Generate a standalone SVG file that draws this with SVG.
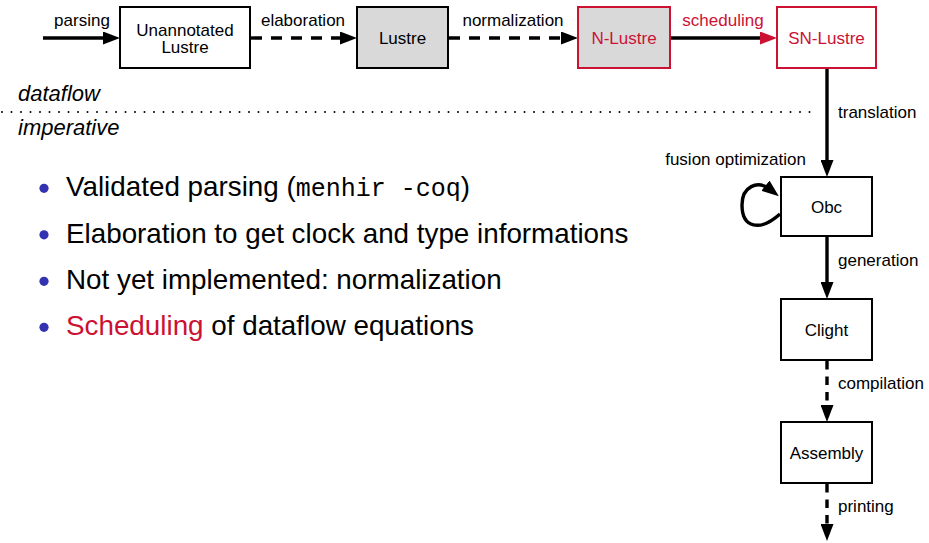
<svg xmlns="http://www.w3.org/2000/svg" width="929" height="543" viewBox="0 0 929 543">
<style>
  .box { fill: #ffffff; stroke: #000000; stroke-width: 2; }
  .grey { fill: #d9d9d9; }
  .redbox { stroke: #cc1133; }
  .lbl { font-family: "Liberation Sans", Arial, sans-serif; font-size: 17px; fill: #000000; text-anchor: middle; }
  .elbl { font-family: "Liberation Sans", Arial, sans-serif; font-size: 17px; fill: #000000; }
  .red { fill: #cc1133; }
  .conn { fill: none; stroke: #000000; stroke-width: 3.4; }
  .hdash { stroke-dasharray: 11 9; }
  .vdash { stroke-dasharray: 8.5 7; }
  .bullet { font-family: "Liberation Sans", Arial, sans-serif; font-size: 27.8px; fill: #000000; }
  .mono { font-family: "Liberation Mono", "DejaVu Sans Mono", monospace; font-size: 25px; }
  .dot { fill: #3333b2; }
  .section { font-family: "Liberation Sans", Arial, sans-serif; font-size: 22px; font-style: italic; fill: #000000; }
</style>
<defs>
  <marker id="ah" markerUnits="userSpaceOnUse" markerWidth="17" markerHeight="13" refX="7" refY="6.5" orient="auto">
    <path d="M0,0 L17,6.5 L0,13 z" fill="#000000"/>
  </marker>
  <marker id="ahr" markerUnits="userSpaceOnUse" markerWidth="17" markerHeight="13" refX="7" refY="6.5" orient="auto">
    <path d="M0,0 L17,6.5 L0,13 z" fill="#cc1133"/>
  </marker>
</defs>

<!-- section separator -->
<g id="separator">
  <text class="section" x="18" y="101">dataflow</text>
  <line x1="2" y1="112" x2="812" y2="112" stroke="#000000" stroke-width="2" stroke-linecap="round" stroke-dasharray="0 9.5"/>
  <text class="section" x="18" y="135">imperative</text>
</g>

<!-- connectors -->
<g id="connectors">
  <line class="conn" x1="43" y1="38" x2="110" y2="38" marker-end="url(#ah)"/>
  <text class="elbl" x="82" y="26" text-anchor="middle">parsing</text>

  <line class="conn hdash" x1="251" y1="38" x2="347" y2="38" marker-end="url(#ah)"/>
  <text class="elbl" x="303" y="26" text-anchor="middle">elaboration</text>

  <line class="conn hdash" x1="449" y1="38" x2="568" y2="38" marker-end="url(#ah)"/>
  <text class="elbl" x="513" y="26" text-anchor="middle">normalization</text>

  <line class="conn" x1="671" y1="38" x2="767" y2="38" stroke="#cc1133" marker-end="url(#ahr)"/>
  <text class="elbl red" x="723" y="26" text-anchor="middle">scheduling</text>

  <line class="conn" x1="827" y1="68" x2="827" y2="167" marker-end="url(#ah)"/>
  <text class="elbl" x="838" y="118">translation</text>

  <path class="conn" d="M 780 214 C 760 232, 742 228, 742 205 C 742 187, 757 179, 771 190" marker-end="url(#ah)"/>
  <text class="elbl" x="806" y="165" text-anchor="end">fusion optimization</text>

  <line class="conn" x1="827" y1="237" x2="827" y2="289" marker-end="url(#ah)"/>
  <text class="elbl" x="838" y="266">generation</text>

  <line class="conn vdash" x1="827" y1="361" x2="827" y2="412" marker-end="url(#ah)"/>
  <text class="elbl" x="838" y="389">compilation</text>

  <line class="conn vdash" x1="827" y1="484" x2="827" y2="531" marker-end="url(#ah)"/>
  <text class="elbl" x="838" y="512">printing</text>
</g>

<!-- nodes -->
<g id="unannotated">
  <rect class="box" x="120" y="7" width="130" height="61"/>
  <text class="lbl" x="185" y="35.5">Unannotated</text>
  <text class="lbl" x="185" y="53">Lustre</text>
</g>
<g id="lustre">
  <rect class="box grey" x="357" y="7" width="91" height="61"/>
  <text class="lbl" x="402.5" y="44">Lustre</text>
</g>
<g id="nlustre">
  <rect class="box grey redbox" x="578" y="7" width="92" height="61"/>
  <text class="lbl red" x="624" y="44">N-Lustre</text>
</g>
<g id="snlustre">
  <rect class="box redbox" x="777" y="7" width="99" height="61"/>
  <text class="lbl red" x="826.5" y="44">SN-Lustre</text>
</g>
<g id="obc">
  <rect class="box" x="781" y="177" width="91" height="59"/>
  <text class="lbl" x="826.5" y="212.5">Obc</text>
</g>
<g id="clight">
  <rect class="box" x="781" y="299" width="91" height="61"/>
  <text class="lbl" x="826.5" y="335.5">Clight</text>
</g>
<g id="assembly">
  <rect class="box" x="781" y="422" width="91" height="61"/>
  <text class="lbl" x="826.5" y="458.5">Assembly</text>
</g>

<!-- bullet list -->
<g id="bullets">
  <circle class="dot" cx="44" cy="188.3" r="4.6"/>
  <text class="bullet" x="66" y="196">Validated parsing (<tspan class="mono">menhir -coq</tspan>)</text>
  <circle class="dot" cx="44" cy="234.8" r="4.6"/>
  <text class="bullet" x="66" y="242.5">Elaboration to get clock and type informations</text>
  <circle class="dot" cx="44" cy="281.3" r="4.6"/>
  <text class="bullet" x="66" y="289">Not yet implemented: normalization</text>
  <circle class="dot" cx="44" cy="327.3" r="4.6"/>
  <text class="bullet" x="66" y="335"><tspan class="red">Scheduling</tspan> of dataflow equations</text>
</g>
</svg>
